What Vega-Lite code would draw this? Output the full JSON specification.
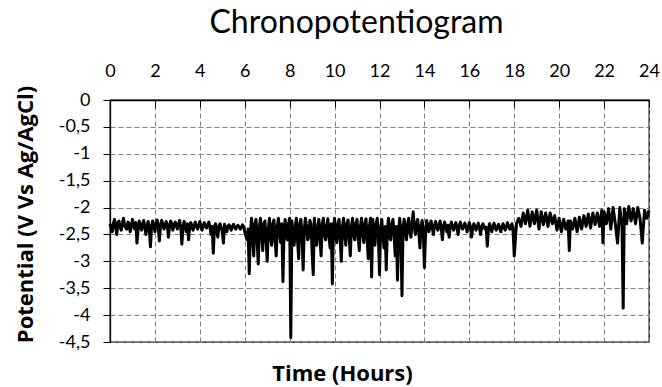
{
  "$schema": "https://vega.github.io/schema/vega-lite/v6.json",
  "width": 539,
  "height": 242,
  "autosize": "none",
  "padding": {"left": 110, "top": 100, "right": 13, "bottom": 45},
  "title": {"text": "Chronopotentiogram", "font": "Lato", "fontSize": 32, "fontWeight": "normal", "color": "#000000", "anchor": "middle", "dx": -23, "offset": 22},
  "config": {
    "view": {"stroke": "#000000", "strokeWidth": 1.3},
    "axis": {"domainColor": "#000000", "domainWidth": 1.3, "tickColor": "#000000", "gridColor": "#7f7f7f", "gridDash": [5, 3], "gridWidth": 1, "labelFont": "Lato", "labelFontSize": 18, "labelColor": "#000000", "titleFont": "Open Sans", "titleColor": "#000000", "titleFontWeight": "bold"}
  },
  "data": {"values": [
    {"t":0.0,"v":-2.3},{"t":0.1,"v":-2.45},{"t":0.2,"v":-2.22},{"t":0.3,"v":-2.5},{"t":0.4,"v":-2.25},{"t":0.5,"v":-2.42},{"t":0.6,"v":-2.2},{"t":0.7,"v":-2.38},{"t":0.8,"v":-2.27},{"t":0.9,"v":-2.45},
    {"t":1.0,"v":-2.22},{"t":1.1,"v":-2.4},{"t":1.2,"v":-2.66},{"t":1.3,"v":-2.25},{"t":1.4,"v":-2.42},{"t":1.5,"v":-2.24},{"t":1.6,"v":-2.5},{"t":1.7,"v":-2.26},{"t":1.8,"v":-2.73},{"t":1.9,"v":-2.25},
    {"t":2.0,"v":-2.45},{"t":2.1,"v":-2.23},{"t":2.2,"v":-2.62},{"t":2.3,"v":-2.24},{"t":2.4,"v":-2.4},{"t":2.5,"v":-2.26},{"t":2.6,"v":-2.55},{"t":2.7,"v":-2.25},{"t":2.8,"v":-2.42},{"t":2.9,"v":-2.27},
    {"t":3.0,"v":-2.4},{"t":3.1,"v":-2.24},{"t":3.2,"v":-2.68},{"t":3.3,"v":-2.26},{"t":3.4,"v":-2.45},{"t":3.5,"v":-2.6},{"t":3.6,"v":-2.28},{"t":3.7,"v":-2.42},{"t":3.8,"v":-2.27},{"t":3.9,"v":-2.4},
    {"t":4.0,"v":-2.26},{"t":4.1,"v":-2.42},{"t":4.2,"v":-2.28},{"t":4.3,"v":-2.38},{"t":4.4,"v":-2.27},{"t":4.5,"v":-2.5},{"t":4.6,"v":-2.85},{"t":4.7,"v":-2.3},{"t":4.8,"v":-2.55},{"t":4.9,"v":-2.3},
    {"t":5.0,"v":-2.45},{"t":5.05,"v":-2.66},{"t":5.1,"v":-2.31},{"t":5.2,"v":-2.45},{"t":5.3,"v":-2.32},{"t":5.4,"v":-2.42},{"t":5.5,"v":-2.31},{"t":5.6,"v":-2.4},{"t":5.7,"v":-2.33},{"t":5.8,"v":-2.4},{"t":5.9,"v":-2.32},
    {"t":6.0,"v":-2.45},{"t":6.1,"v":-2.6},{"t":6.2,"v":-3.23},{"t":6.3,"v":-2.2},{"t":6.4,"v":-2.9},{"t":6.5,"v":-2.22},{"t":6.6,"v":-3.05},{"t":6.7,"v":-2.2},{"t":6.8,"v":-2.8},{"t":6.9,"v":-2.25},
    {"t":7.0,"v":-3.0},{"t":7.1,"v":-2.2},{"t":7.2,"v":-2.7},{"t":7.3,"v":-2.23},{"t":7.4,"v":-2.9},{"t":7.5,"v":-2.2},{"t":7.6,"v":-2.65},{"t":7.7,"v":-3.38},{"t":7.8,"v":-2.22},{"t":7.9,"v":-2.6},
    {"t":8.0,"v":-2.2},{"t":8.05,"v":-4.42},{"t":8.1,"v":-2.25},{"t":8.2,"v":-2.7},{"t":8.3,"v":-2.2},{"t":8.4,"v":-2.95},{"t":8.5,"v":-2.22},{"t":8.6,"v":-3.16},{"t":8.7,"v":-2.2},{"t":8.8,"v":-2.6},{"t":8.9,"v":-2.24},
    {"t":9.0,"v":-2.85},{"t":9.05,"v":-3.25},{"t":9.1,"v":-2.2},{"t":9.2,"v":-2.7},{"t":9.3,"v":-2.22},{"t":9.4,"v":-2.9},{"t":9.5,"v":-2.2},{"t":9.6,"v":-2.6},{"t":9.7,"v":-2.21},{"t":9.8,"v":-2.75},{"t":9.9,"v":-3.42},
    {"t":10.0,"v":-2.2},{"t":10.1,"v":-2.65},{"t":10.2,"v":-2.22},{"t":10.3,"v":-3.0},{"t":10.4,"v":-2.2},{"t":10.5,"v":-2.7},{"t":10.6,"v":-2.23},{"t":10.7,"v":-2.9},{"t":10.8,"v":-2.2},{"t":10.9,"v":-2.6},
    {"t":11.0,"v":-2.22},{"t":11.1,"v":-2.8},{"t":11.2,"v":-2.2},{"t":11.3,"v":-2.65},{"t":11.4,"v":-2.21},{"t":11.5,"v":-2.95},{"t":11.6,"v":-2.2},{"t":11.65,"v":-3.29},{"t":11.7,"v":-2.22},{"t":11.8,"v":-2.7},{"t":11.9,"v":-2.2},
    {"t":12.0,"v":-3.25},{"t":12.1,"v":-2.22},{"t":12.2,"v":-2.75},{"t":12.3,"v":-3.16},{"t":12.4,"v":-2.2},{"t":12.5,"v":-2.6},{"t":12.6,"v":-2.22},{"t":12.7,"v":-2.9},{"t":12.8,"v":-3.35},{"t":12.9,"v":-2.2},
    {"t":13.0,"v":-3.64},{"t":13.1,"v":-2.22},{"t":13.2,"v":-2.6},{"t":13.3,"v":-2.2},{"t":13.4,"v":-2.55},{"t":13.5,"v":-2.08},{"t":13.6,"v":-2.5},{"t":13.7,"v":-2.22},{"t":13.8,"v":-2.75},{"t":13.9,"v":-2.24},
    {"t":14.0,"v":-3.12},{"t":14.1,"v":-2.24},{"t":14.2,"v":-2.45},{"t":14.3,"v":-2.25},{"t":14.4,"v":-2.5},{"t":14.5,"v":-2.26},{"t":14.6,"v":-2.42},{"t":14.7,"v":-2.25},{"t":14.8,"v":-2.6},{"t":14.9,"v":-2.27},
    {"t":15.0,"v":-2.45},{"t":15.1,"v":-2.55},{"t":15.2,"v":-2.27},{"t":15.3,"v":-2.42},{"t":15.4,"v":-2.28},{"t":15.5,"v":-2.5},{"t":15.6,"v":-2.27},{"t":15.7,"v":-2.4},{"t":15.8,"v":-2.29},{"t":15.9,"v":-2.45},
    {"t":16.0,"v":-2.28},{"t":16.1,"v":-2.55},{"t":16.2,"v":-2.3},{"t":16.3,"v":-2.42},{"t":16.4,"v":-2.29},{"t":16.5,"v":-2.5},{"t":16.6,"v":-2.3},{"t":16.7,"v":-2.4},{"t":16.8,"v":-2.72},{"t":16.9,"v":-2.3},
    {"t":17.0,"v":-2.45},{"t":17.1,"v":-2.29},{"t":17.2,"v":-2.42},{"t":17.3,"v":-2.31},{"t":17.4,"v":-2.45},{"t":17.5,"v":-2.3},{"t":17.6,"v":-2.42},{"t":17.7,"v":-2.28},{"t":17.8,"v":-2.4},{"t":17.9,"v":-2.3},
    {"t":18.0,"v":-2.9},{"t":18.1,"v":-2.3},{"t":18.2,"v":-2.2},{"t":18.3,"v":-2.35},{"t":18.4,"v":-2.1},{"t":18.5,"v":-2.3},{"t":18.6,"v":-2.05},{"t":18.7,"v":-2.35},{"t":18.8,"v":-2.08},{"t":18.9,"v":-2.3},
    {"t":19.0,"v":-2.05},{"t":19.1,"v":-2.4},{"t":19.2,"v":-2.08},{"t":19.3,"v":-2.32},{"t":19.4,"v":-2.1},{"t":19.5,"v":-2.35},{"t":19.6,"v":-2.1},{"t":19.7,"v":-2.3},{"t":19.8,"v":-2.15},{"t":19.9,"v":-2.42},
    {"t":20.0,"v":-2.2},{"t":20.1,"v":-2.45},{"t":20.2,"v":-2.22},{"t":20.3,"v":-2.4},{"t":20.4,"v":-2.25},{"t":20.45,"v":-2.8},{"t":20.5,"v":-2.25},{"t":20.6,"v":-2.4},{"t":20.7,"v":-2.2},{"t":20.8,"v":-2.45},{"t":20.9,"v":-2.18},
    {"t":21.0,"v":-2.4},{"t":21.1,"v":-2.15},{"t":21.2,"v":-2.35},{"t":21.3,"v":-2.12},{"t":21.4,"v":-2.38},{"t":21.5,"v":-2.1},{"t":21.6,"v":-2.32},{"t":21.7,"v":-2.1},{"t":21.8,"v":-2.35},{"t":21.9,"v":-2.05},{"t":21.95,"v":-2.66},
    {"t":22.0,"v":-2.08},{"t":22.1,"v":-2.3},{"t":22.2,"v":-2.02},{"t":22.3,"v":-2.4},{"t":22.4,"v":-2.0},{"t":22.5,"v":-2.3},{"t":22.6,"v":-2.66},{"t":22.7,"v":-2.0},{"t":22.8,"v":-2.35},{"t":22.85,"v":-3.87},{"t":22.9,"v":-2.02},
    {"t":23.0,"v":-2.3},{"t":23.1,"v":-1.98},{"t":23.2,"v":-2.25},{"t":23.3,"v":-2.02},{"t":23.4,"v":-2.3},{"t":23.5,"v":-2.0},{"t":23.6,"v":-2.2},{"t":23.7,"v":-2.66},{"t":23.8,"v":-2.05},{"t":23.9,"v":-2.2},{"t":24.0,"v":-2.05},
    {"t":0.05,"v":-2.38},{"t":0.15,"v":-2.3},{"t":0.25,"v":-2.35},{"t":0.35,"v":-2.28},{"t":0.45,"v":-2.36},{"t":0.55,"v":-2.3},{"t":0.65,"v":-2.33},{"t":0.75,"v":-2.4},{"t":0.85,"v":-2.3},{"t":0.95,"v":-2.35},
    {"t":1.05,"v":-2.32},{"t":1.15,"v":-2.28},{"t":1.25,"v":-2.4},{"t":1.35,"v":-2.35},{"t":1.45,"v":-2.3},{"t":1.55,"v":-2.38},{"t":1.65,"v":-2.32},{"t":1.75,"v":-2.4},{"t":1.85,"v":-2.35},{"t":1.95,"v":-2.32},
    {"t":2.05,"v":-2.3},{"t":2.15,"v":-2.38},{"t":2.25,"v":-2.32},{"t":2.35,"v":-2.3},{"t":2.45,"v":-2.35},{"t":2.55,"v":-2.32},{"t":2.65,"v":-2.36},{"t":2.75,"v":-2.3},{"t":2.85,"v":-2.34},{"t":2.95,"v":-2.32},
    {"t":3.05,"v":-2.3},{"t":3.15,"v":-2.36},{"t":3.25,"v":-2.38},{"t":3.35,"v":-2.33},{"t":3.45,"v":-2.3},{"t":3.55,"v":-2.34},{"t":3.65,"v":-2.36},{"t":3.75,"v":-2.32},{"t":3.85,"v":-2.35},{"t":3.95,"v":-2.33},
    {"t":4.05,"v":-2.35},{"t":4.15,"v":-2.33},{"t":4.25,"v":-2.35},{"t":4.35,"v":-2.32},{"t":4.45,"v":-2.36},{"t":4.55,"v":-2.35},{"t":4.65,"v":-2.36},{"t":4.75,"v":-2.4},{"t":4.85,"v":-2.35},{"t":4.95,"v":-2.37},
    {"t":5.15,"v":-2.38},{"t":5.25,"v":-2.36},{"t":5.35,"v":-2.37},{"t":5.45,"v":-2.35},{"t":5.55,"v":-2.36},{"t":5.65,"v":-2.35},{"t":5.75,"v":-2.36},{"t":5.85,"v":-2.37},{"t":5.95,"v":-2.36},
    {"t":6.15,"v":-2.4},{"t":6.25,"v":-2.5},{"t":6.35,"v":-2.55},{"t":6.45,"v":-2.3},{"t":6.55,"v":-2.6},{"t":6.65,"v":-2.35},{"t":6.75,"v":-2.5},{"t":6.85,"v":-2.3},{"t":6.95,"v":-2.6},
    {"t":7.05,"v":-2.4},{"t":7.15,"v":-2.55},{"t":7.25,"v":-2.3},{"t":7.35,"v":-2.6},{"t":7.45,"v":-2.35},{"t":7.55,"v":-2.5},{"t":7.65,"v":-2.3},{"t":7.75,"v":-2.45},{"t":7.85,"v":-2.55},{"t":7.95,"v":-2.3},
    {"t":8.15,"v":-2.5},{"t":8.25,"v":-2.35},{"t":8.35,"v":-2.6},{"t":8.45,"v":-2.3},{"t":8.55,"v":-2.5},{"t":8.65,"v":-2.4},{"t":8.75,"v":-2.35},{"t":8.85,"v":-2.55},{"t":8.95,"v":-2.3},
    {"t":9.15,"v":-2.55},{"t":9.25,"v":-2.35},{"t":9.35,"v":-2.6},{"t":9.45,"v":-2.3},{"t":9.55,"v":-2.5},{"t":9.65,"v":-2.35},{"t":9.75,"v":-2.55},{"t":9.85,"v":-2.3},{"t":9.95,"v":-2.4},
    {"t":10.05,"v":-2.55},{"t":10.15,"v":-2.3},{"t":10.25,"v":-2.6},{"t":10.35,"v":-2.35},{"t":10.45,"v":-2.5},{"t":10.55,"v":-2.3},{"t":10.65,"v":-2.55},{"t":10.75,"v":-2.35},{"t":10.85,"v":-2.5},{"t":10.95,"v":-2.3},
    {"t":11.05,"v":-2.55},{"t":11.15,"v":-2.35},{"t":11.25,"v":-2.5},{"t":11.35,"v":-2.3},{"t":11.45,"v":-2.6},{"t":11.55,"v":-2.35},{"t":11.75,"v":-2.45},{"t":11.85,"v":-2.3},{"t":11.95,"v":-2.5},
    {"t":12.05,"v":-2.4},{"t":12.15,"v":-2.5},{"t":12.25,"v":-2.35},{"t":12.35,"v":-2.4},{"t":12.45,"v":-2.55},{"t":12.55,"v":-2.3},{"t":12.65,"v":-2.5},{"t":12.75,"v":-2.35},{"t":12.85,"v":-2.45},{"t":12.95,"v":-2.5},
    {"t":13.05,"v":-2.35},{"t":13.15,"v":-2.45},{"t":13.25,"v":-2.3},{"t":13.35,"v":-2.45},{"t":13.45,"v":-2.3},{"t":13.55,"v":-2.35},{"t":13.65,"v":-2.3},{"t":13.75,"v":-2.45},{"t":13.85,"v":-2.35},{"t":13.95,"v":-2.45},
    {"t":14.05,"v":-2.5},{"t":14.15,"v":-2.35},{"t":14.25,"v":-2.32},{"t":14.35,"v":-2.38},{"t":14.45,"v":-2.33},{"t":14.55,"v":-2.36},{"t":14.65,"v":-2.32},{"t":14.75,"v":-2.38},{"t":14.85,"v":-2.35},{"t":14.95,"v":-2.36},
    {"t":15.05,"v":-2.33},{"t":15.15,"v":-2.35},{"t":15.25,"v":-2.36},{"t":15.35,"v":-2.33},{"t":15.45,"v":-2.38},{"t":15.55,"v":-2.34},{"t":15.65,"v":-2.35},{"t":15.75,"v":-2.36},{"t":15.85,"v":-2.35},{"t":15.95,"v":-2.37},
    {"t":16.05,"v":-2.36},{"t":16.15,"v":-2.38},{"t":16.25,"v":-2.36},{"t":16.35,"v":-2.35},{"t":16.45,"v":-2.38},{"t":16.55,"v":-2.36},{"t":16.65,"v":-2.35},{"t":16.75,"v":-2.37},{"t":16.85,"v":-2.4},{"t":16.95,"v":-2.37},
    {"t":17.05,"v":-2.36},{"t":17.15,"v":-2.37},{"t":17.25,"v":-2.36},{"t":17.35,"v":-2.38},{"t":17.45,"v":-2.37},{"t":17.55,"v":-2.36},{"t":17.65,"v":-2.35},{"t":17.75,"v":-2.36},{"t":17.85,"v":-2.35},{"t":17.95,"v":-2.45}
  ]},
  "mark": {"type": "line", "color": "#000000", "strokeWidth": 3, "strokeJoin": "round"},
  "encoding": {
    "x": {"field": "t", "type": "quantitative", "scale": {"domain": [0, 24], "nice": false},
      "axis": {"orient": "top", "values": [0,2,4,6,8,10,12,14,16,18,20,22,24], "tickSize": -7, "labelPadding": 31, "labelBaseline": "alphabetic", "labelFlush": false, "labelOverlap": false,
        "title": "Time (Hours)", "titleFontSize": 22, "titleX": 232, "titleY": 280, "titleBaseline": "alphabetic", "titleAlign": "center"}},
    "y": {"field": "v", "type": "quantitative", "scale": {"domain": [-4.5, 0], "nice": false, "zero": false},
      "axis": {"values": [0,-0.5,-1,-1.5,-2,-2.5,-3,-3.5,-4,-4.5], "tickSize": 7, "labelPadding": 13, "labelExpr": "replace(toString(datum.value), '.', ',')", "labelFlush": false, "labelOverlap": false,
        "title": "Potential (V Vs Ag/AgCl)", "titleFontSize": 22, "titleX": -78, "titleY": 114, "titleBaseline": "alphabetic", "titleAlign": "center", "titleAngle": -90}}
  }
}
